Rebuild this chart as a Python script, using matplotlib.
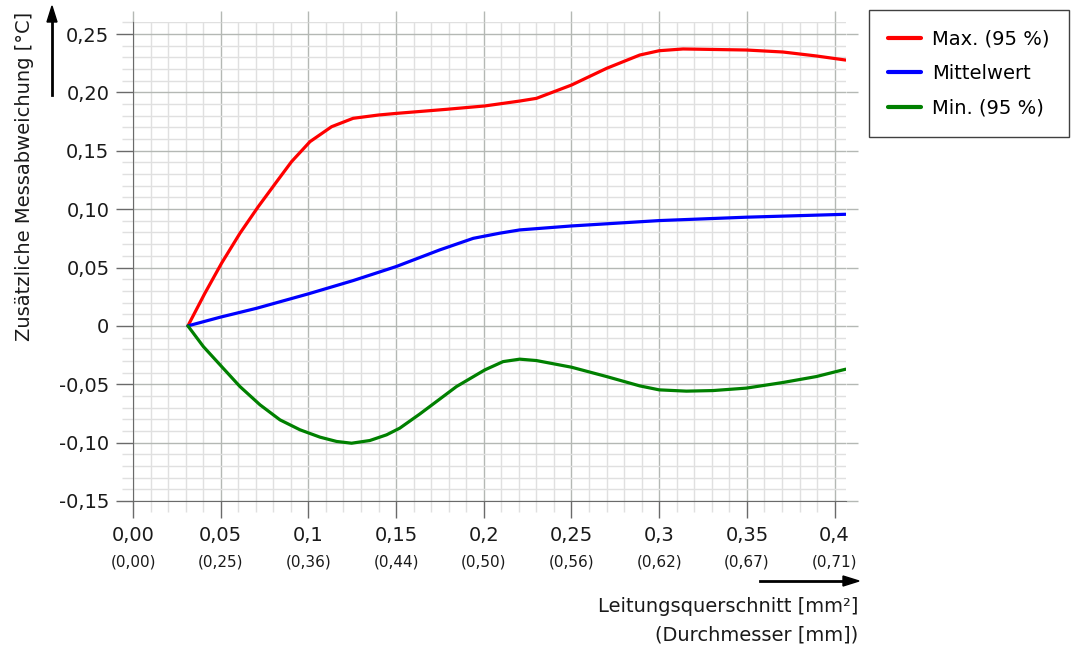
import numpy as np
import matplotlib.pyplot as plt
from matplotlib.ticker import MultipleLocator, FixedLocator
from matplotlib.transforms import blended_transform_factory

# Leitungsquerschnitt [mm²] -> Messabweichung [°C]
x_max = [0.0313, 0.041, 0.0505, 0.061, 0.0714, 0.0819, 0.0904, 0.1009, 0.1132, 0.1255,
         0.1398, 0.150, 0.1787, 0.2006, 0.2205, 0.230, 0.250, 0.270, 0.2889, 0.300,
         0.3136, 0.3497, 0.3705, 0.3896, 0.4063]
y_max = [0.0, 0.028, 0.0537, 0.0794, 0.1021, 0.1235, 0.1407, 0.1578, 0.1706, 0.1778,
         0.1806, 0.182, 0.1855, 0.1884, 0.1926, 0.1949, 0.2063, 0.2206, 0.232, 0.2357,
         0.2372, 0.2363, 0.2346, 0.2312, 0.2277]

x_mean = [0.0313, 0.0496, 0.0705, 0.0999, 0.1255, 0.150, 0.1749, 0.194, 0.2091, 0.2205,
          0.250, 0.300, 0.3497, 0.4063]
y_mean = [0.0, 0.0074, 0.0151, 0.0274, 0.0388, 0.0508, 0.0651, 0.075, 0.0794, 0.0822,
          0.0856, 0.0902, 0.0931, 0.0956]

x_min = [0.0313, 0.0401, 0.0505, 0.061, 0.0724, 0.0838, 0.0952, 0.1066, 0.1161, 0.1246,
         0.135, 0.1446, 0.1521, 0.1635, 0.1844, 0.2006, 0.211, 0.2205, 0.230, 0.250,
         0.270, 0.2889, 0.300, 0.3155, 0.3307, 0.3497, 0.3705, 0.3896, 0.4063]
y_min = [0.0, -0.0177, -0.0348, -0.052, -0.0676, -0.0805, -0.089, -0.0953, -0.099, -0.1005,
         -0.0982, -0.0933, -0.0876, -0.0755, -0.052, -0.0377, -0.0306, -0.0285, -0.0297, -0.0354,
         -0.0434, -0.0514, -0.0548, -0.0559, -0.0554, -0.0533, -0.0485, -0.0434, -0.0371]

xticks = [0.0, 0.05, 0.1, 0.15, 0.2, 0.25, 0.3, 0.35, 0.4]
xtick_labels = ['0,00', '0,05', '0,1', '0,15', '0,2', '0,25', '0,3', '0,35', '0,4']
diam_labels = ['(0,00)', '(0,25)', '(0,36)', '(0,44)', '(0,50)', '(0,56)', '(0,62)', '(0,67)', '(0,71)']
yticks = [-0.15, -0.10, -0.05, 0.0, 0.05, 0.10, 0.15, 0.20, 0.25]
ytick_labels = ['-0,15', '-0,10', '-0,05', '0', '0,05', '0,10', '0,15', '0,20', '0,25']

W, H = 1085, 653
grid_major = '#b4b8b4'
grid_minor = '#e0e0e0'
axis_col = '#6a6a6a'
txt = '#1a1a1a'

fig = plt.figure(figsize=(W / 100, H / 100), dpi=100)
ax = fig.add_axes([133 / W, 1 - 501 / H, (846 - 133) / W, (501 - 22) / H])

kw = dict(lw=2.3, zorder=3, solid_joinstyle='round', solid_capstyle='round')
ax.plot(x_max, y_max, color='#ff0000', label='Max. (95 %)', **kw)
ax.plot(x_mean, y_mean, color='#0000ff', label='Mittelwert', **kw)
ax.plot(x_min, y_min, color='#008000', label='Min. (95 %)', **kw)

ax.set_xlim(0, 0.4065)
ax.set_ylim(-0.15, 0.2603)

ax.xaxis.set_major_locator(FixedLocator(xticks))
ax.yaxis.set_major_locator(FixedLocator(yticks))
ax.xaxis.set_minor_locator(MultipleLocator(0.01))
ax.yaxis.set_minor_locator(MultipleLocator(0.01))
ax.set_xticklabels(xtick_labels)
ax.set_yticklabels(ytick_labels)

ax.grid(which='minor', color=grid_minor, lw=1)
ax.grid(which='major', color=grid_major, lw=1)
ax.set_axisbelow(True)

for s in ['top', 'right']:
    ax.spines[s].set_visible(False)
for s in ['left', 'bottom']:
    ax.spines[s].set_color(axis_col)

ax.tick_params(which='major', direction='out', length=12, width=1, color=axis_col,
               labelsize=14, labelcolor=txt)
ax.tick_params(axis='y', which='major', pad=5)
ax.tick_params(axis='x', which='major', pad=6)
ax.tick_params(which='minor', direction='out', length=8, width=1, color=grid_minor)

# grid stubs past the top and right edge
stub_top = 11 / (501 - 22)
stub_right = 12 / (846 - 133)
tx = blended_transform_factory(ax.transData, ax.transAxes)
ty = blended_transform_factory(ax.transAxes, ax.transData)
ax.vlines(xticks, 1, 1 + stub_top, transform=tx, colors=grid_major, lw=1, clip_on=False)
ax.hlines(yticks, 1, 1 + stub_right, transform=ty, colors=grid_major, lw=1, clip_on=False)

for xv, lab in zip(xticks, diam_labels):
    ax.annotate(lab, xy=(xv, 0), xycoords=tx, xytext=(0, -44), textcoords='offset points',
                ha='center', va='center', fontsize=11, color=txt)

fig.text(25 / W, 1 - 176 / H, 'Zusätzliche Messabweichung [°C]', rotation=90,
         ha='center', va='center', fontsize=14, color=txt)
fig.text(858 / W, 1 - 607 / H, 'Leitungsquerschnitt [mm²]', ha='right', va='center',
         fontsize=14, color=txt)
fig.text(858 / W, 1 - 635 / H, '(Durchmesser [mm])', ha='right', va='center',
         fontsize=14, color=txt)

# axis arrows
fig.add_artist(plt.Line2D([52 / W, 52 / W], [1 - 95 / H, 1 - 20 / H], color='black', lw=2))
fig.patches.append(plt.Polygon([[47 / W, 1 - 22 / H], [57 / W, 1 - 22 / H], [52 / W, 1 - 6 / H]],
                               closed=True, color='black', transform=fig.transFigure))
fig.add_artist(plt.Line2D([760 / W, 846 / W], [1 - 581 / H, 1 - 581 / H], color='black', lw=2))
fig.patches.append(plt.Polygon([[843 / W, 1 - 576 / H], [843 / W, 1 - 586 / H], [859 / W, 1 - 581 / H]],
                               closed=True, color='black', transform=fig.transFigure))

leg = fig.legend(loc='upper left', bbox_to_anchor=(869 / W, 1 - 10 / H), fontsize=14,
                 frameon=True, fancybox=False, edgecolor='#404040', framealpha=1,
                 handlelength=1.65, handletextpad=0.6, labelspacing=0.8, borderpad=1.0,
                 borderaxespad=0)
leg.get_frame().set_linewidth(1)
for lh in leg.get_lines():
    lh.set_linewidth(3)

fig.savefig('out.png', dpi=100)
